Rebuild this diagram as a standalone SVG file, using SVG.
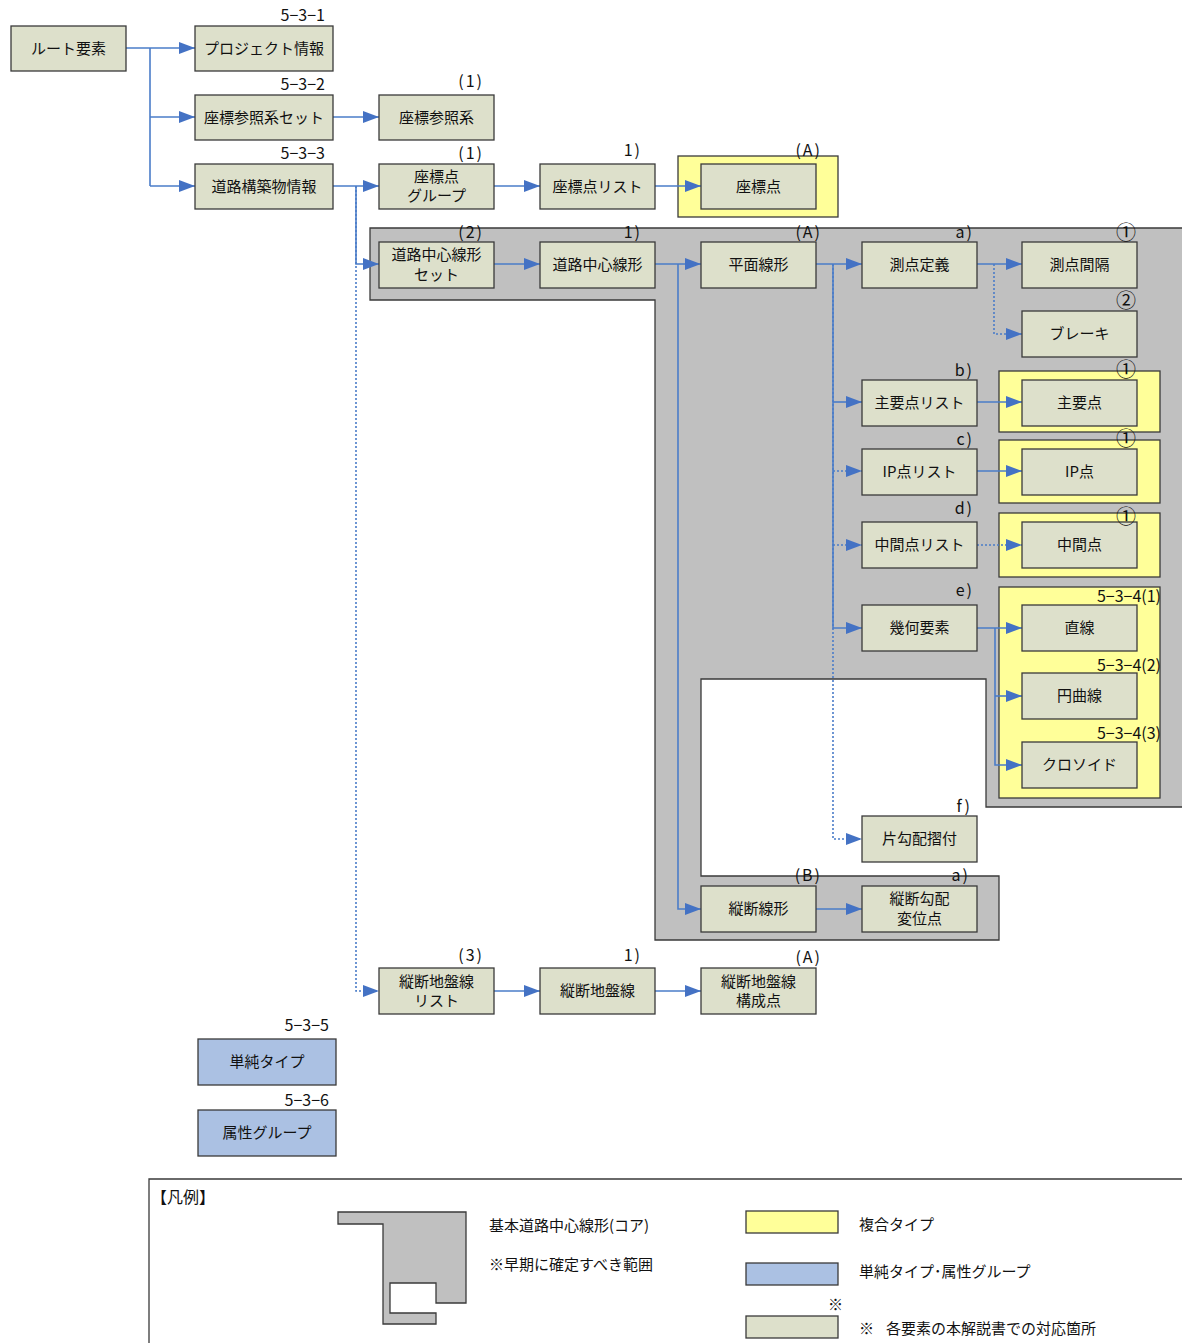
<svg xmlns="http://www.w3.org/2000/svg" width="1182" height="1343" viewBox="0 0 1182 1343">
<style>
.n{fill:#dde0cb;stroke:#3a3a3a;stroke-width:1.3}
.b{fill:#abc1e3;stroke:#3a3a3a;stroke-width:1.3}
.y{fill:#ffff99;stroke:#3a3a3a;stroke-width:1.3}
.g{fill:#c0c0c0;stroke:#3a3a3a;stroke-width:1.3}
text{font-family:"Noto Sans CJK JP","Noto Sans",sans-serif;fill:#111}
.t{font-size:15px;text-anchor:middle}
.l{font-size:16px;text-anchor:end}
.p{font-size:16px;text-anchor:end;letter-spacing:2px}
.o{font-size:20px;text-anchor:end}
.c{fill:none;stroke:#4a7cc8;stroke-width:1.6}
.d{fill:none;stroke:#4a7cc8;stroke-width:1.6;stroke-dasharray:2 2}
.lg{font-size:15px}
</style>
<defs>
<marker id="a" viewBox="0 0 16 12" refX="16" refY="6" markerWidth="16" markerHeight="12" markerUnits="userSpaceOnUse" orient="auto">
<path d="M0,0 L16,6 L0,12 z" fill="#4472c4"/>
</marker>
</defs>

<!-- backgrounds -->
<g id="core-region">
<path class="g" d="M370,228 H1190 V807 H986 V679 H701 V876 H999 V940 H655 V300 H370 Z"/>
</g>
<rect class="y" x="678" y="156" width="160" height="61"/>
<rect class="y" x="999" y="371" width="161" height="61"/>
<rect class="y" x="999" y="440" width="161" height="63"/>
<rect class="y" x="999" y="513" width="161" height="64"/>
<rect class="y" x="999" y="587" width="161" height="211"/>

<!-- connectors -->
<g id="connectors">
<path class="c" d="M126,48 H195" marker-end="url(#a)"/>
<path class="c" d="M150,48 V186"/>
<path class="c" d="M150,117 H195" marker-end="url(#a)"/>
<path class="c" d="M150,186 H195" marker-end="url(#a)"/>
<path class="c" d="M333,117 H379" marker-end="url(#a)"/>
<path class="c" d="M333,186 H379" marker-end="url(#a)"/>
<path class="c" d="M356,186 V264 H379" marker-end="url(#a)"/>
<path class="d" d="M356,186 V991 H379" marker-end="url(#a)"/>
<path class="c" d="M494,186 H540" marker-end="url(#a)"/>
<path class="c" d="M655,186 H701" marker-end="url(#a)"/>
<path class="c" d="M494,264 H540" marker-end="url(#a)"/>
<path class="c" d="M655,264 H701" marker-end="url(#a)"/>
<path class="c" d="M678,264 V909 H701" marker-end="url(#a)"/>
<path class="c" d="M816,264 H862" marker-end="url(#a)"/>
<path class="c" d="M833,264 V628 H862" marker-end="url(#a)"/>
<path class="c" d="M833,402 H862" marker-end="url(#a)"/>
<path class="d" d="M833,264 V839 H862" marker-end="url(#a)"/>
<path class="d" d="M833,471 H862" marker-end="url(#a)"/>
<path class="d" d="M833,545 H862" marker-end="url(#a)"/>
<path class="c" d="M977,264 H1022" marker-end="url(#a)"/>
<path class="d" d="M994,264 V334 H1022" marker-end="url(#a)"/>
<path class="c" d="M977,402 H1022" marker-end="url(#a)"/>
<path class="c" d="M977,471 H1022" marker-end="url(#a)"/>
<path class="d" d="M977,545 H1022" marker-end="url(#a)"/>
<path class="c" d="M977,628 H1022" marker-end="url(#a)"/>
<path class="c" d="M995,628 V765 H1022" marker-end="url(#a)"/>
<path class="c" d="M995,696 H1022" marker-end="url(#a)"/>
<path class="c" d="M816,909 H862" marker-end="url(#a)"/>
<path class="c" d="M494,991 H540" marker-end="url(#a)"/>
<path class="c" d="M655,991 H701" marker-end="url(#a)"/>
</g>

<!-- nodes -->
<g id="root"><rect class="n" x="11" y="26" width="115" height="45"/><text class="t" x="68.5" y="54">ルート要素</text></g>
<g id="project"><rect class="n" x="195" y="26" width="138" height="45"/><text class="t" x="264" y="54">プロジェクト情報</text><text class="l" x="325" y="21">5−3−1</text></g>
<g id="crs-set"><rect class="n" x="195" y="95" width="138" height="45"/><text class="t" x="264" y="123">座標参照系セット</text><text class="l" x="325" y="90">5−3−2</text></g>
<g id="crs"><rect class="n" x="379" y="95" width="115" height="45"/><text class="t" x="436.5" y="123">座標参照系</text><text class="p" x="484" y="87">(1)</text></g>
<g id="road-info"><rect class="n" x="195" y="164" width="138" height="45"/><text class="t" x="264" y="192">道路構築物情報</text><text class="l" x="325" y="159">5−3−3</text></g>
<g id="cp-group"><rect class="n" x="379" y="164" width="115" height="45"/><text class="t" x="436.5" y="182">座標点</text><text class="t" x="436.5" y="201">グループ</text><text class="p" x="484" y="159">(1)</text></g>
<g id="cp-list"><rect class="n" x="540" y="164" width="115" height="45"/><text class="p" x="642" y="156">1)</text><text class="t" x="597.5" y="192">座標点リスト</text></g>
<g id="cp"><rect class="n" x="701" y="164" width="115" height="45"/><text class="t" x="758.5" y="192">座標点</text><text class="p" x="822" y="156">(A)</text></g>

<g id="al-set"><rect class="n" x="379" y="242" width="115" height="46"/><text class="t" x="436.5" y="260">道路中心線形</text><text class="t" x="436.5" y="280">セット</text><text class="p" x="484" y="238">(2)</text></g>
<g id="al"><rect class="n" x="540" y="242" width="115" height="46"/><text class="t" x="597.5" y="270">道路中心線形</text><text class="p" x="642" y="238">1)</text></g>
<g id="horiz"><rect class="n" x="701" y="242" width="115" height="46"/><text class="t" x="758.5" y="270">平面線形</text><text class="p" x="822" y="238">(A)</text></g>
<g id="station-def"><rect class="n" x="862" y="242" width="115" height="46"/><text class="t" x="919.5" y="270">測点定義</text><text class="p" x="974" y="238">a)</text></g>
<g id="station-int"><rect class="n" x="1022" y="242" width="115" height="46"/><text class="t" x="1079.5" y="270">測点間隔</text><text class="o" x="1136" y="240">①</text></g>
<g id="break"><rect class="n" x="1022" y="311" width="115" height="46"/><text class="t" x="1079.5" y="339">ブレーキ</text><text class="o" x="1136" y="308">②</text></g>
<g id="kp-list"><rect class="n" x="862" y="380" width="115" height="46"/><text class="t" x="919.5" y="408">主要点リスト</text><text class="p" x="974" y="376">b)</text></g>
<g id="kp"><rect class="n" x="1022" y="380" width="115" height="46"/><text class="t" x="1079.5" y="408">主要点</text><text class="o" x="1136" y="377">①</text></g>
<g id="ip-list"><rect class="n" x="862" y="449" width="115" height="46"/><text class="t" x="919.5" y="477">IP点リスト</text><text class="p" x="974" y="445">c)</text></g>
<g id="ip"><rect class="n" x="1022" y="449" width="115" height="46"/><text class="t" x="1079.5" y="477">IP点</text><text class="o" x="1136" y="446">①</text></g>
<g id="mid-list"><rect class="n" x="862" y="522" width="115" height="46"/><text class="t" x="919.5" y="550">中間点リスト</text><text class="p" x="974" y="514">d)</text></g>
<g id="mid"><rect class="n" x="1022" y="522" width="115" height="46"/><text class="t" x="1079.5" y="550">中間点</text><text class="o" x="1136" y="524">①</text></g>
<g id="geom"><rect class="n" x="862" y="605" width="115" height="46"/><text class="t" x="919.5" y="633">幾何要素</text><text class="p" x="974" y="596">e)</text></g>
<g id="line"><rect class="n" x="1022" y="605" width="115" height="46"/><text class="t" x="1079.5" y="633">直線</text><text class="l" x="1161" y="602">5−3−4(1)</text></g>
<g id="arc"><rect class="n" x="1022" y="673" width="115" height="46"/><text class="t" x="1079.5" y="701">円曲線</text><text class="l" x="1161" y="671">5−3−4(2)</text></g>
<g id="clothoid"><rect class="n" x="1022" y="742" width="115" height="46"/><text class="t" x="1079.5" y="770">クロソイド</text><text class="l" x="1161" y="739">5−3−4(3)</text></g>
<g id="supel"><rect class="n" x="862" y="816" width="115" height="46"/><text class="t" x="919.5" y="844">片勾配摺付</text><text class="p" x="972" y="812">f)</text></g>
<g id="vert"><rect class="n" x="701" y="886" width="115" height="46"/><text class="t" x="758.5" y="914">縦断線形</text><text class="p" x="822" y="881">(B)</text></g>
<g id="vpi"><rect class="n" x="862" y="886" width="115" height="46"/><text class="t" x="919.5" y="904">縦断勾配</text><text class="t" x="919.5" y="924">変位点</text><text class="p" x="970" y="881">a)</text></g>
<g id="gl-list"><rect class="n" x="379" y="968" width="115" height="46"/><text class="t" x="436.5" y="987">縦断地盤線</text><text class="t" x="436.5" y="1006">リスト</text><text class="p" x="484" y="961">(3)</text></g>
<g id="gl"><rect class="n" x="540" y="968" width="115" height="46"/><text class="t" x="597.5" y="996">縦断地盤線</text><text class="p" x="642" y="961">1)</text></g>
<g id="gl-pt"><rect class="n" x="701" y="968" width="115" height="46"/><text class="t" x="758.5" y="987">縦断地盤線</text><text class="t" x="758.5" y="1006">構成点</text><text class="p" x="822" y="963">(A)</text></g>
<g id="simple"><rect class="b" x="198" y="1039" width="138" height="46"/><text class="t" x="267" y="1067">単純タイプ</text><text class="l" x="329" y="1031">5−3−5</text></g>
<g id="attr"><rect class="b" x="198" y="1110" width="138" height="46"/><text class="t" x="267" y="1138">属性グループ</text><text class="l" x="329" y="1106">5−3−6</text></g>

<!-- legend -->
<g id="legend">
<path d="M149,1343 V1179 H1182" fill="none" stroke="#3a3a3a" stroke-width="1.3"/>
<text x="151" y="1203" style="font-size:16px">【凡例】</text>
<path class="g" d="M338,1212 H466 V1303 H436 V1283 H390 V1313 H436 V1324 H383 V1224 H338 Z"/>
<text class="lg" x="489" y="1231">基本道路中心線形(コア)</text>
<text class="lg" x="489" y="1270">※早期に確定すべき範囲</text>
<rect class="y" x="746" y="1211" width="92" height="22"/>
<text class="lg" x="859" y="1230">複合タイプ</text>
<rect class="b" x="746" y="1263" width="92" height="22"/>
<text class="lg" x="859" y="1277">単純タイプ･属性グループ</text>
<text class="lg" x="828" y="1310">※</text>
<rect class="n" x="746" y="1316" width="92" height="22"/>
<text class="lg" x="859" y="1334">※<tspan dx="12">各要素の本解説書での対応箇所</tspan></text>
</g>
</svg>
